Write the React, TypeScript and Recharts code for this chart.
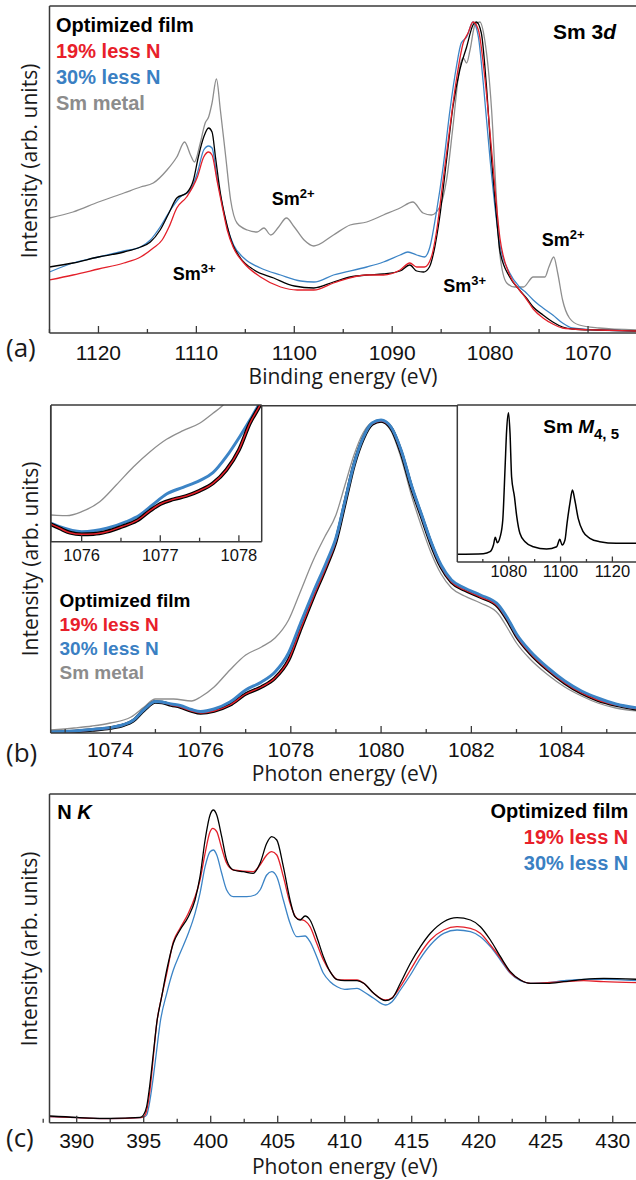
import React from 'react';
import { LineChart, Line, XAxis, YAxis } from 'recharts';

type P = [number, number];

// ---------- Panel (a): Sm 3d, binding energy (eV) vs intensity ----------
const aBlack: P[] = [
  [1125, 66], [1122.6, 70], [1120, 76], [1117.4, 81], [1115.7, 86], [1114.7, 91], [1113.7, 103], [1112.8, 120],
  [1112.0, 135], [1111.0, 140], [1110.3, 153], [1109.8, 176], [1109.25, 196], [1108.75, 205], [1108.4, 201],
  [1108.05, 176], [1107.55, 140], [1107.0, 113], [1106.35, 90], [1105.5, 75], [1104.1, 63], [1102.1, 55],
  [1100.0, 47], [1098.0, 45], [1096.0, 51], [1094.3, 56], [1092.6, 58], [1090.9, 59], [1089.2, 62], [1088.2, 68],
  [1087.5, 62], [1086.8, 61], [1086.2, 66], [1085.65, 86], [1085.15, 116], [1084.45, 173], [1083.8, 226],
  [1083.1, 263], [1082.4, 286], [1081.75, 308], [1081.4, 311], [1080.9, 300], [1080.4, 250], [1079.85, 173],
  [1079.35, 116], [1079.0, 82], [1078.0, 56], [1077.0, 43], [1076.3, 35], [1075.6, 26], [1074.6, 18],
  [1073.6, 11], [1072.6, 6], [1071.6, 4], [1069, 3], [1065, 2],
];
const aRed: P[] = [
  [1125, 53], [1122.6, 58], [1120, 64], [1117.4, 70], [1115.7, 76], [1114.4, 85], [1113.5, 93], [1112.8, 106],
  [1112.0, 125], [1111.0, 136], [1109.9, 156], [1109.25, 176], [1108.75, 181], [1108.4, 178], [1107.9, 153],
  [1107.35, 126], [1106.85, 103], [1106.2, 85], [1105.15, 70], [1103.45, 56], [1101.4, 46], [1099.7, 43],
  [1098.0, 43], [1096.0, 50], [1092.6, 58], [1090.9, 58], [1089.2, 63], [1088.2, 70], [1087.5, 66], [1086.7, 66],
  [1086.0, 76], [1085.5, 100], [1084.8, 153], [1084.1, 206], [1083.45, 253], [1082.75, 290], [1082.25, 300],
  [1081.75, 311], [1081.2, 303], [1080.55, 256], [1079.85, 183], [1079.0, 95], [1078.0, 58], [1077.0, 43],
  [1076.3, 34], [1075.6, 24], [1074.6, 15], [1073.6, 9], [1072.6, 5], [1071.6, 4], [1069, 3], [1065, 2],
];
const aBlue: P[] = [
  [1125, 61], [1122.6, 70], [1120, 76], [1117.4, 82], [1115.7, 86], [1114.7, 93], [1113.7, 106], [1112.65, 123],
  [1111.65, 136], [1110.6, 143], [1109.9, 160], [1109.25, 183], [1108.75, 187], [1108.4, 185], [1107.9, 156],
  [1107.35, 128], [1106.85, 106], [1106.2, 88], [1105.15, 75], [1103.45, 65], [1101.4, 58], [1099.35, 52],
  [1098.0, 51], [1096.0, 58], [1092.6, 66], [1090.9, 71], [1089.2, 78], [1088.4, 81], [1087.5, 78], [1086.7, 76],
  [1086.15, 86], [1085.5, 120], [1084.8, 166], [1084.1, 223], [1083.45, 266], [1082.95, 290], [1082.4, 296],
  [1081.75, 311], [1081.2, 296], [1080.7, 250], [1080.0, 173], [1079.35, 113], [1079.0, 88], [1078.0, 60],
  [1077.0, 46], [1076.3, 40], [1075.6, 33], [1074.6, 25], [1073.6, 18], [1072.6, 10], [1071.6, 5], [1069, 3], [1065, 2],
];
const aGray: P[] = [
  [1125, 115], [1122.6, 121], [1120, 131], [1117.4, 140], [1115.7, 146], [1114.4, 150], [1113.0, 163], [1112.0, 176],
  [1111.2, 191], [1110.6, 178], [1110.2, 171], [1109.6, 190], [1109.1, 210], [1108.75, 216], [1108.4, 230],
  [1107.95, 254], [1107.55, 223], [1107.0, 176], [1106.5, 133], [1105.85, 110], [1104.8, 103], [1103.8, 101],
  [1103.1, 105], [1102.4, 98], [1101.6, 106], [1100.8, 115], [1100.0, 106], [1099.0, 93], [1098.0, 87],
  [1096.0, 98], [1094.3, 108], [1092.6, 111], [1090.9, 118], [1089.2, 125], [1087.9, 131], [1086.85, 120],
  [1086.0, 118], [1085.15, 126], [1084.45, 153], [1083.8, 206], [1083.1, 266], [1082.75, 275], [1082.4, 270],
  [1082.05, 283], [1081.55, 308], [1081.05, 311], [1080.55, 293], [1079.85, 223], [1079.35, 133], [1079.0, 78],
  [1078.3, 50], [1077.5, 46], [1076.6, 46], [1075.6, 56], [1074.4, 56], [1074.0, 66], [1073.5, 76], [1073.1, 60],
  [1072.6, 33], [1071.9, 15], [1070.9, 8], [1068.9, 5], [1065, 3],
];
const aTicks = [1065, 1070, 1075, 1080, 1085, 1090, 1095, 1100, 1105, 1110, 1115, 1120, 1125];

// ---------- Panel (b): Sm M4,5 XAS, photon energy (eV) ----------
const bBlack: P[] = [
  [1072.68, 0.5], [1073.2, 1.5], [1073.6, 3], [1074.0, 5], [1074.3, 8], [1074.5, 12], [1074.75, 23], [1075.0, 31],
  [1075.15, 30.5], [1075.35, 28], [1075.55, 26], [1075.8, 22], [1076.0, 20], [1076.3, 22], [1076.65, 28],
  [1077.0, 39], [1077.35, 46], [1077.65, 55], [1077.95, 73], [1078.2, 102], [1078.5, 136], [1078.8, 168],
  [1079.0, 192], [1079.2, 230], [1079.4, 268], [1079.6, 294], [1079.8, 309], [1080.0, 312], [1080.22, 305],
  [1080.45, 280], [1080.67, 246], [1080.9, 216], [1081.1, 190], [1081.33, 166], [1081.56, 151], [1081.85, 143],
  [1082.2, 136], [1082.6, 126], [1082.8, 113], [1083.0, 97], [1083.3, 80], [1083.7, 63], [1084.07, 50],
  [1084.44, 40], [1084.8, 33], [1085.2, 28], [1085.67, 24],
];
const bRed: P[] = [
  [1072.68, 0.5], [1073.2, 1.5], [1073.6, 3], [1074.0, 5], [1074.3, 8], [1074.5, 12], [1074.75, 23], [1075.0, 31],
  [1075.15, 30.5], [1075.35, 28], [1075.55, 26], [1075.8, 22], [1076.0, 20], [1076.3, 22], [1076.65, 28],
  [1077.0, 39], [1077.35, 46], [1077.65, 55], [1077.95, 73], [1078.2, 102], [1078.5, 136], [1078.8, 168],
  [1079.0, 192], [1079.2, 230], [1079.4, 268], [1079.6, 294], [1079.8, 309], [1080.0, 312], [1080.22, 305],
  [1080.45, 280], [1080.67, 246], [1080.9, 216], [1081.1, 190], [1081.33, 166], [1081.56, 151], [1081.85, 143],
  [1082.2, 136], [1082.6, 126], [1082.8, 113], [1083.0, 97], [1083.3, 80], [1083.7, 63], [1084.07, 50],
  [1084.44, 40], [1084.8, 33], [1085.2, 28], [1085.67, 24],
];
const bBlue: P[] = [
  [1072.68, 1], [1073.2, 2], [1073.6, 3.5], [1074.0, 5.5], [1074.3, 8.5], [1074.5, 12.5], [1074.75, 23.5],
  [1075.0, 31.5], [1075.15, 31], [1075.35, 29], [1075.55, 27.5], [1075.8, 23.5], [1076.0, 21.5], [1076.3, 24],
  [1076.65, 31], [1077.0, 43], [1077.35, 51], [1077.65, 61], [1077.95, 80], [1078.2, 108], [1078.5, 141],
  [1078.8, 172], [1079.0, 195], [1079.2, 232], [1079.4, 269], [1079.6, 295], [1079.8, 310], [1080.0, 313],
  [1080.22, 306], [1080.45, 282], [1080.67, 248], [1080.9, 218], [1081.1, 192], [1081.33, 168], [1081.56, 153],
  [1081.85, 145], [1082.2, 138], [1082.6, 128], [1082.8, 115], [1083.0, 99], [1083.3, 82], [1083.7, 65],
  [1084.07, 52], [1084.44, 42], [1084.8, 35], [1085.2, 29], [1085.67, 25],
];
const bGray: P[] = [
  [1072.68, 3], [1073.2, 5], [1073.6, 7], [1074.0, 10], [1074.46, 16], [1074.75, 26], [1075.0, 34], [1075.4, 34],
  [1075.8, 32], [1076.0, 36], [1076.3, 46], [1076.65, 63], [1077.0, 78], [1077.35, 86], [1077.65, 95],
  [1077.95, 113], [1078.2, 140], [1078.5, 173], [1078.75, 196], [1079.0, 218], [1079.2, 248], [1079.4, 278],
  [1079.6, 300], [1079.8, 310], [1080.0, 311], [1080.22, 302], [1080.45, 274], [1080.67, 238], [1080.9, 206],
  [1081.1, 181], [1081.33, 159], [1081.56, 145], [1081.85, 137], [1082.2, 130], [1082.6, 119], [1082.8, 105],
  [1083.0, 90], [1083.3, 74], [1083.7, 58], [1084.07, 46], [1084.44, 37], [1084.8, 30], [1085.2, 25], [1085.67, 22],
];
const bTicks = [1073, 1074, 1075, 1076, 1077, 1078, 1079, 1080, 1081, 1082, 1083, 1084, 1085];

// inset (b) left: zoom of the pre-edge
const iBlack: P[] = [
  [1075.5, 21], [1075.61, 17.4], [1075.72, 13.4], [1075.85, 9], [1076.0, 7.4], [1076.15, 7.7], [1076.32, 10],
  [1076.51, 15], [1076.7, 21], [1076.87, 31], [1077.0, 37.7], [1077.17, 42.4], [1077.33, 45.7], [1077.5, 51],
  [1077.67, 58.4], [1077.84, 71.7], [1078.0, 91.7], [1078.14, 118.4], [1078.27, 136.7], [1078.35, 150],
];
const iRed: P[] = [
  [1075.5, 21], [1075.61, 17.4], [1075.72, 13.4], [1075.85, 9], [1076.0, 7.4], [1076.15, 7.7], [1076.32, 10],
  [1076.51, 15], [1076.7, 21], [1076.87, 31], [1077.0, 37.7], [1077.17, 42.4], [1077.33, 45.7], [1077.5, 51],
  [1077.67, 58.4], [1077.84, 71.7], [1078.0, 91.7], [1078.14, 118.4], [1078.27, 136.7], [1078.35, 150],
];
const iBlue: P[] = [
  [1075.5, 21.5], [1075.61, 18.4], [1075.72, 15], [1076.0, 10], [1076.32, 13.4], [1076.57, 20], [1076.74, 26.7],
  [1076.9, 36.7], [1077.08, 47.7], [1077.29, 54.4], [1077.5, 61], [1077.67, 69], [1077.84, 85], [1078.01, 105],
  [1078.14, 121.7], [1078.25, 136.7], [1078.32, 148],
];
const iGray: P[] = [
  [1075.5, 27], [1075.61, 26.7], [1075.81, 26], [1076.0, 30], [1076.23, 40], [1076.44, 56.7], [1076.66, 75],
  [1076.87, 90], [1077.08, 102.4], [1077.29, 111], [1077.5, 118.4], [1077.67, 128.4], [1077.8, 136.7], [1077.9, 146],
];
const iTicks = [1076, 1076.5, 1077, 1077.5, 1078];

// inset (b) right: wide Sm M4,5 spectrum
const mWide: P[] = [
  [1060.15, 7.7], [1070.2, 8.3], [1072.8, 10.3], [1074.1, 17], [1074.8, 24.7], [1075.6, 19.3], [1076.7, 25.3],
  [1077.7, 42], [1078.6, 95.3], [1079.2, 132], [1079.9, 149.3], [1080.5, 128.7], [1081.1, 85.3], [1082.2, 65.3],
  [1083.1, 45.3], [1084.3, 28.7], [1086.3, 20.3], [1089.5, 15.3], [1094.6, 13], [1098.5, 15.3], [1099.7, 22.7],
  [1100.6, 17], [1101.7, 22], [1102.5, 38.7], [1103.6, 58.7], [1104.6, 72], [1105.5, 62], [1106.8, 43.7],
  [1108.7, 30.3], [1111.3, 23.7], [1115.1, 20.3], [1121.5, 18.7], [1129.5, 18.7],
];
const mTicks = [1070, 1080, 1090, 1100, 1110, 1120];

// ---------- Panel (c): N K edge ----------
const cBlack: P[] = [
  [388.0, 6.7], [390, 5.3], [392.5, 4.3], [394.73, 5.3], [394.98, 7.7], [395.22, 16], [395.47, 39.4],
  [395.72, 69.4], [395.97, 99.4], [396.34, 126], [396.72, 152.7], [397.21, 179.4], [397.71, 192.7], [398.33, 206],
  [398.83, 222.7], [399.2, 246], [399.58, 282.7], [399.95, 307.7], [400.2, 312.7], [400.45, 307.7], [400.82, 286],
  [401.19, 262.7], [401.69, 252.7], [402.44, 251], [403.18, 249.4], [403.68, 259.4], [404.18, 279.4], [404.55, 286],
  [404.93, 282.7], [405.42, 256], [405.92, 222.7], [406.29, 206], [406.67, 202.7], [407.04, 206.7], [407.41, 202.7],
  [407.91, 186], [408.41, 166], [408.91, 151], [409.43, 143], [410.0, 142], [410.92, 142], [411.42, 139.4],
  [412.16, 129.4], [413.03, 122], [413.53, 124.4], [414.15, 139.4], [414.9, 159.4], [415.65, 176], [416.39, 189.4],
  [417.39, 201], [418.38, 205], [419.38, 202.7], [420.12, 196], [420.87, 182.7], [421.62, 166], [422.36, 151],
  [423.11, 142.7], [423.86, 139.4], [425.1, 139.4], [426.34, 141], [427.84, 143.4], [429.33, 144.4], [431.8, 143.4],
];
const cRed: P[] = [
  [388.0, 6], [390, 5], [392.5, 4], [394.73, 5], [395.0, 6], [395.22, 12], [395.47, 32.7], [395.72, 66],
  [395.97, 99.4], [396.34, 126], [396.72, 149.4], [397.21, 181], [397.71, 194.4], [398.33, 209.4], [398.83, 226],
  [399.2, 242.7], [399.58, 269.4], [399.95, 291], [400.15, 294.4], [400.45, 291], [400.82, 274.4], [401.19, 259.4],
  [401.69, 252.7], [403.18, 251], [403.68, 257.7], [404.18, 267.7], [404.55, 271], [404.93, 267.7], [405.42, 246],
  [405.92, 219.4], [406.42, 204.4], [407.04, 201.7], [407.41, 196], [407.91, 179.4], [408.41, 162.7], [408.91, 151],
  [409.43, 143.4], [410.0, 142.7], [410.92, 142.7], [411.42, 139.4], [412.16, 129.4], [413.03, 122.7],
  [413.53, 125], [414.15, 136], [414.9, 152.7], [415.65, 169.4], [416.39, 182.7], [417.39, 192.7], [418.38, 196],
  [419.38, 194.4], [420.12, 189.4], [420.87, 177.7], [421.62, 164.4], [422.36, 150], [423.11, 142.7],
  [423.86, 139.4], [425.1, 140], [426.34, 141], [427.84, 142], [429.33, 141], [431.8, 140],
];
const cBlue: P[] = [
  [388.0, 6], [390, 5], [392.5, 4], [394.73, 5], [395.0, 5.5], [395.22, 7.7], [395.47, 22.7], [395.72, 46],
  [395.97, 72.7], [396.22, 99.4], [396.72, 129.4], [397.21, 152.7], [397.71, 169.4], [398.33, 189.4],
  [398.83, 209.4], [399.2, 229.4], [399.58, 256], [399.95, 271], [400.2, 272.7], [400.45, 267.7], [400.82, 249.4],
  [401.19, 232.7], [401.69, 226], [402.69, 226], [403.31, 227.7], [403.68, 232.7], [404.18, 247.7], [404.55, 251],
  [404.93, 246], [405.42, 222.7], [405.92, 199.4], [406.42, 186], [407.04, 186.7], [407.41, 181], [407.91, 166],
  [408.41, 149.4], [408.91, 141], [409.43, 136], [410.0, 133.4], [410.92, 134.4], [411.42, 131], [412.16, 124.4],
  [413.03, 117.7], [413.53, 121], [414.15, 132.7], [414.9, 147.7], [415.65, 164.4], [416.39, 177.7],
  [417.39, 189.4], [418.38, 192.7], [419.38, 191], [420.12, 186], [420.87, 176], [421.62, 162.7], [422.36, 149.4],
  [423.11, 142], [423.86, 139.4], [425.1, 140], [426.34, 142], [427.84, 143.4], [429.33, 143.4], [431.8, 142],
];
const cTicks = [387.5, 390, 392.5, 395, 397.5, 400, 402.5, 405, 407.5, 410, 412.5, 415, 417.5, 420, 422.5, 425, 427.5, 430];

// ---------- styling ----------
const FRAME = '#3a3a3a';
const C_BLACK = '#000000';
const C_RED = '#e3202a';
const C_BLUE = '#3c84c6';
const C_GRAY = '#8e8e8e';
const TICK_FONT = "'Liberation Sans', Arial, sans-serif";
const BOLD_FONT = "'Liberation Sans', Arial, sans-serif";
const TITLE_FONT = "'Open Sans', 'DejaVu Sans', sans-serif";

const pts = (arr: P[]) => arr.map(([x, y]) => ({ x, y }));

function makeTick(isMajor: (v: number) => boolean, majorLen: number, minorLen: number, fs: number, gap: number) {
  return (props: any) => {
    const { x, y, payload } = props;
    const v = payload.value as number;
    const major = isMajor(v);
    return (
      <g>
        <line x1={x} x2={x} y1={y} y2={y - (major ? majorLen : minorLen)} stroke={FRAME} strokeWidth={1.3} />
        {major && (
          <text x={x} y={y + gap + fs * 0.716} textAnchor="middle" fontSize={fs} fontFamily={TICK_FONT} fill="#111">
            {Math.round(v)}
          </text>
        )}
      </g>
    );
  };
}

const near = (v: number, m: number) => Math.abs(v / m - Math.round(v / m)) < 1e-6;
const tickA = makeTick((v) => near(v, 10), 7, 4, 21, 11.5);
const tickB = makeTick((v) => near(v, 2), 7, 4, 21, 8.5);
const tickC = makeTick((v) => near(v, 5), 7, 4, 21, 10);
const tickI = makeTick((v) => near(v, 1), 6.5, 4, 16.5, 7.3);
const tickM = makeTick((v) => near(v, 20), 5.5, 3, 16.5, 3.3);

// Axes with 1px thickness: the axis line sits on the plot edge; margins are reduced by 1 accordingly.
function frameAxes(xDomain: [number, number], yDomain: [number, number], ticks: number[], tick: any, reversed = false, sw = 1.5) {
  const line = { stroke: FRAME, strokeWidth: sw };
  return [
    <XAxis key="xb" xAxisId="b" type="number" dataKey="x" domain={xDomain} reversed={reversed} allowDataOverflow
      ticks={ticks} interval={0} tick={tick} tickLine={false} tickSize={0} tickMargin={0} height={1} axisLine={line} />,
    <XAxis key="xt" xAxisId="t" orientation="top" type="number" dataKey="x" domain={xDomain} reversed={reversed}
      allowDataOverflow ticks={ticks} interval={0} tick={false} tickLine={false} height={1} axisLine={line} />,
    <YAxis key="yl" yAxisId="l" type="number" domain={yDomain} allowDataOverflow ticks={yDomain} tick={false}
      tickLine={false} width={1} axisLine={line} />,
    <YAxis key="yr" yAxisId="r" orientation="right" type="number" domain={yDomain} allowDataOverflow ticks={yDomain}
      tick={false} tickLine={false} width={1} axisLine={line} />,
  ];
}

function series(data: P[], color: string, width: number, key: string) {
  return (
    <Line key={key} xAxisId="b" yAxisId="l" data={pts(data)} dataKey="y" type="monotone" dot={false}
      activeDot={false} stroke={color} strokeWidth={width} strokeLinejoin="round" isAnimationActive={false} />
  );
}

const legendA = [
  { t: 'Optimized film', c: C_BLACK },
  { t: '19% less N', c: '#e8202a' },
  { t: '30% less N', c: '#3a80c3' },
  { t: 'Sm metal', c: '#8c8c8c' },
];

function Ion({ x, y, sup }: { x: number; y: number; sup: string }) {
  return (
    <text x={x} y={y} fontFamily={BOLD_FONT} fontWeight="bold" fontSize={18} fill="#000">
      Sm<tspan dy={-7} fontSize={13}>{sup}</tspan>
    </text>
  );
}

export default function App() {
  return (
    <div style={{ position: 'absolute', left: 0, top: 0, width: 636, height: 1180, overflow: 'hidden', background: '#fff' }}>
      {/* Panel (a) */}
      <div style={{ position: 'absolute', left: 0, top: 0 }}>
        <LineChart width={640} height={390} margin={{ top: 5, right: 2, bottom: 56, left: 48.5 }}>
          {frameAxes([1065, 1125], [0, 327], aTicks, tickA, true)}
          {series(aGray, C_GRAY, 1.3, 'ag')}
          {series(aBlue, C_BLUE, 1.3, 'abl')}
          {series(aBlack, C_BLACK, 1.3, 'ak')}
          {series(aRed, C_RED, 1.3, 'ar')}
        </LineChart>
      </div>

      {/* Panel (b) */}
      <div style={{ position: 'absolute', left: 0, top: 390 }}>
        <LineChart width={640} height={400} margin={{ top: 14.7, right: 2, bottom: 56, left: 49.7 }}>
          {frameAxes([1072.68, 1085.67], [0, 327.3], bTicks, tickB)}
          {series(bGray, C_GRAY, 1.3, 'bg')}
          {series(bBlack, C_BLACK, 3.6, 'bk')}
          {series(bRed, C_RED, 1.4, 'br')}
          {series(bBlue, C_BLUE, 3, 'bbl')}
        </LineChart>
      </div>
      {/* inset left */}
      <div style={{ position: 'absolute', left: 51, top: 405, width: 211, height: 137, background: '#fff' }} />
      <div style={{ position: 'absolute', left: 0, top: 390 }}>
        <LineChart width={300} height={200} margin={{ top: 14, right: 37.3, bottom: 47.3, left: 50 }}>
          {frameAxes([1075.61, 1078.29], [0, 136.7], iTicks, tickI)}
          {series(iGray, C_GRAY, 1.3, 'ig')}
          {series(iBlue, C_BLUE, 3, 'ibl')}
          {series(iBlack, C_BLACK, 3.8, 'ik')}
          {series(iRed, C_RED, 1.5, 'ir')}
        </LineChart>
      </div>
      {/* inset right */}
      <div style={{ position: 'absolute', left: 457, top: 405, width: 180, height: 157, background: '#fff' }} />
      <div style={{ position: 'absolute', left: 400, top: 390 }}>
        <LineChart width={240} height={200} margin={{ top: 14, right: 2, bottom: 27, left: 56.3 }}>
          {frameAxes([1060.15, 1129.5], [0, 157], mTicks, tickM)}
          {series(mWide, C_BLACK, 1.5, 'mw')}
        </LineChart>
      </div>

      {/* Panel (c) */}
      <div style={{ position: 'absolute', left: 0, top: 790 }}>
        <LineChart width={640} height={390} margin={{ top: 3, right: 2, bottom: 56.3, left: 48.5 }}>
          {frameAxes([387.97, 431.81], [0, 328.7], cTicks, tickC)}
          {series(cBlue, C_BLUE, 1.3, 'cbl')}
          {series(cRed, C_RED, 1.3, 'cr')}
          {series(cBlack, C_BLACK, 1.3, 'ck')}
        </LineChart>
      </div>

      {/* Text overlay */}
      <svg width={636} height={1180} style={{ position: 'absolute', left: 0, top: 0, pointerEvents: 'none' }}>
        {/* panel a */}
        {legendA.map((l, i) => (
          <text key={'la' + i} x={56} y={32 + i * 26} fontFamily={BOLD_FONT} fontWeight="bold" fontSize={20} fill={l.c}>{l.t}</text>
        ))}
        <text x={553} y={39.3} fontFamily={BOLD_FONT} fontWeight="bold" fontSize={21} fill="#000">
          Sm 3<tspan fontStyle="italic">d</tspan>
        </text>
        <Ion x={271.7} y={205} sup="2+" />
        <Ion x={172.7} y={280} sup="3+" />
        <Ion x={443.3} y={291.7} sup="3+" />
        <Ion x={541.7} y={246} sup="2+" />
        <text x={343} y={383.5} textAnchor="middle" fontFamily={TITLE_FONT} fontSize={21} fill="#1a1a1a">Binding energy (eV)</text>
        <text transform="translate(36.5,161) rotate(-90)" textAnchor="middle" fontFamily={TITLE_FONT} fontSize={21} fill="#1a1a1a">Intensity (arb. units)</text>
        <text x={6} y={357} fontFamily={TITLE_FONT} fontSize={26} fill="#1a1a1a">(a)</text>

        {/* panel b */}
        {legendA.map((l, i) => (
          <text key={'lb' + i} x={59.5} y={606.5 + i * 24.3} fontFamily={BOLD_FONT} fontWeight="bold" fontSize={19} fill={l.c}>{l.t}</text>
        ))}
        <text x={543.3} y={433.3} fontFamily={BOLD_FONT} fontWeight="bold" fontSize={19} fill="#000">
          Sm <tspan fontStyle="italic">M</tspan><tspan dy={6} fontSize={15}>4, 5</tspan>
        </text>
        <text x={344.7} y={780.8} textAnchor="middle" fontFamily={TITLE_FONT} fontSize={21} fill="#1a1a1a">Photon energy (eV)</text>
        <text transform="translate(38,559) rotate(-90)" textAnchor="middle" fontFamily={TITLE_FONT} fontSize={21} fill="#1a1a1a">Intensity (arb. units)</text>
        <text x={6} y={762} fontFamily={TITLE_FONT} fontSize={26} fill="#1a1a1a">(b)</text>

        {/* panel c */}
        <text x={57.3} y={819.3} fontFamily={BOLD_FONT} fontWeight="bold" fontSize={20} fill="#000">
          N <tspan fontStyle="italic">K</tspan>
        </text>
        {legendA.slice(0, 3).map((l, i) => (
          <text key={'lc' + i} x={628.3} y={818.3 + i * 25.8} textAnchor="end" fontFamily={BOLD_FONT} fontWeight="bold" fontSize={20} fill={l.c}>{l.t}</text>
        ))}
        <text x={344.8} y={1174.3} textAnchor="middle" fontFamily={TITLE_FONT} fontSize={21} fill="#1a1a1a">Photon energy (eV)</text>
        <text transform="translate(36.5,949) rotate(-90)" textAnchor="middle" fontFamily={TITLE_FONT} fontSize={21} fill="#1a1a1a">Intensity (arb. units)</text>
        <text x={6} y={1147} fontFamily={TITLE_FONT} fontSize={26} fill="#1a1a1a">(c)</text>
      </svg>
    </div>
  );
}
